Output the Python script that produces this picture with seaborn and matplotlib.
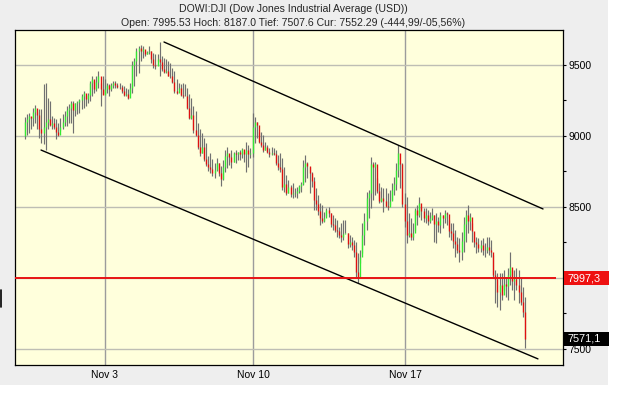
import numpy as np
import pandas as pd
import matplotlib
matplotlib.use("Agg")
import matplotlib.pyplot as plt
import seaborn as sns
from matplotlib.patches import Rectangle
from matplotlib.transforms import blended_transform_factory
from matplotlib.lines import Line2D

# ---------------- data ----------------
title_1 = "DOWI:DJI (Dow Jones Industrial Average (USD))"
title_2 = "Open: 7995.53 Hoch: 8187.0 Tief: 7507.6 Cur: 7552.29 (-444,99/-05,56%)"

first_open = 9000

highs = [
    # Oct 29 - Nov 3
    9136, 9153, 9164, 9136, 9200, 9216, 9169, 9188, 9188, 9364, 9375, 9270, 9246, 9141, 9129,
    9117, 9094, 9129, 9153, 9176, 9211, 9223, 9246, 9246, 9235, 9246, 9258, 9293, 9317, 9282,
    9305, 9387, 9422, 9387, 9422, 9458, 9375, 9422, 9399, 9375, 9364, 9375, 9387, 9387, 9375,
    # Nov 4 - Nov 7
    9375, 9357, 9352, 9340, 9329, 9375, 9528, 9552, 9622, 9634, 9638, 9634, 9598, 9598, 9634,
    9598, 9587, 9575, 9575, 9662, 9563, 9552, 9540, 9528, 9516, 9481, 9458, 9399, 9375, 9364,
    9375, 9364, 9340, 9293, 9270, 9211, 9176, 9094, 9047, 9023, 8988, 8953, 8859, 8883, 8836,
    8812, 8847, 8812, 8789, 8831,
    # Nov 7 - Nov 12
    8901, 8925, 8866, 8901, 8890, 8901, 8890, 8901, 8913, 8890, 8960, 8937, 8913, 9160, 9136,
    9101, 9031, 9031, 9007, 8960, 8937, 8913, 8925, 8913, 8901, 8866, 8878, 8843, 8784, 8725,
    8690, 8655, 8667, 8631, 8643, 8655, 8678, 8831, 8866, 8819, 8784, 8749, 8714, 8631, 8585,
    8526, 8514, 8467,
    # Nov 12 - Nov 18
    8491, 8502, 8455, 8444, 8420, 8408, 8362, 8385, 8408, 8408, 8315, 8303, 8291, 8268, 8256,
    8174, 8197, 8385, 8455, 8608, 8620, 8854, 8819, 8819, 8702, 8667, 8643, 8631, 8631, 8596,
    8620, 8667, 8714, 8807, 8937, 8807, 8807, 8596, 8573, 8455, 8420, 8385, 8491, 8514, 8573,
    8502, 8491, 8491, 8479, 8467, 8491,
    # Nov 18 - Nov 20
    8444, 8455, 8432, 8467, 8444, 8479, 8467, 8408, 8385, 8385, 8338, 8291, 8279, 8326, 8432,
    8479, 8514, 8455, 8385, 8326, 8291, 8279, 8268, 8279, 8244, 8291, 8291, 8268, 8162, 8056,
    8033, 8033, 8033, 8056, 8009, 8068, 8186, 8056, 8056, 8068, 8056, 8000, 7939, 7869,
]

lows = [
    8977, 9005, 9023, 9047, 9070, 9094, 9047, 8988, 8953, 8941, 8904, 9047, 9070, 9047, 9047,
    8977, 9000, 9035, 9047, 9070, 9070, 9094, 9094, 9023, 9141, 9153, 9164, 9188, 9200, 9211,
    9235, 9246, 9282, 9305, 9317, 9340, 9211, 9293, 9293, 9305, 9282, 9317, 9340, 9340, 9340,
    9333, 9305, 9282, 9282, 9258, 9293, 9305, 9352, 9422, 9446, 9528, 9552, 9563, 9575, 9575,
    9516, 9481, 9469, 9528, 9422, 9458, 9446, 9446, 9422, 9411, 9375, 9305, 9293, 9329, 9282,
    9270, 9282, 9188, 9117, 9117, 9023, 9000, 8906, 8859, 8883, 8824, 8789, 8754, 8742, 8718,
    8707, 8754, 8718, 8648, 8690,
    8749, 8772, 8796, 8772, 8819, 8808, 8831, 8831, 8843, 8819, 8749, 8784, 8843, 8854, 8948,
    8984, 8948, 8925, 8890, 8901, 8878, 8854, 8866, 8866, 8796, 8761, 8749, 8620, 8608, 8585,
    8596, 8573, 8561, 8573, 8561, 8596, 8608, 8655, 8678, 8702, 8596, 8643, 8479, 8479, 8444,
    8373, 8385, 8397,
    8437, 8427, 8362, 8338, 8326, 8291, 8279, 8256, 8268, 8315, 8209, 8221, 8197, 8150, 7998,
    7963, 8103, 8174, 8232, 8338, 8420, 8491, 8549, 8584, 8596, 8526, 8538, 8467, 8502, 8479,
    8514, 8549, 8584, 8620, 8714, 8631, 8502, 8362, 8244, 8291, 8268, 8268, 8338, 8373, 8432,
    8408, 8397, 8385, 8373, 8385, 8408,
    8256, 8244, 8326, 8314, 8350, 8385, 8373, 8291, 8268, 8209, 8150, 8174, 8115, 8127, 8186,
    8256, 8315, 8338, 8256, 8221, 8174, 8186, 8186, 8162, 8150, 8174, 8162, 8150, 7998, 7822,
    7798, 7775, 7845, 7916, 7869, 7845, 7951, 7916, 7845, 7916, 7822, 7810, 7728, 7507,
]

closes = [
    9100, 9120, 9140, 9130, 9170, 9200, 9150, 9050, 9020, 9060, 9100, 9120, 9080, 9090, 9060,
    9030, 9010, 9060, 9100, 9140, 9180, 9200, 9230, 9180, 9230, 9240, 9250, 9280, 9300, 9260,
    9290, 9370, 9400, 9330, 9380, 9420, 9330, 9290, 9330, 9360, 9330, 9360, 9370, 9360, 9345,
    9345, 9315, 9290, 9295, 9265, 9340, 9500, 9530, 9600, 9620, 9600, 9610, 9575, 9590, 9600,
    9540, 9500, 9490, 9540, 9520, 9470, 9450, 9460, 9420, 9420, 9380, 9320, 9300, 9340, 9290,
    9280, 9285, 9200, 9130, 9150, 9040, 9010, 8920, 8880, 8920, 8840, 8800, 8780, 8770, 8740,
    8760, 8810, 8740, 8700, 8780,
    8860, 8880, 8850, 8820, 8880, 8870, 8885, 8875, 8905, 8870, 8900, 8870, 8880, 9060, 9100,
    9080, 8960, 8940, 8900, 8920, 8890, 8870, 8880, 8875, 8810, 8780, 8770, 8640, 8660, 8600,
    8640, 8590, 8600, 8600, 8610, 8650, 8660, 8780, 8810, 8790, 8740, 8680, 8550, 8520, 8470,
    8420, 8400, 8420,
    8480, 8460, 8380, 8370, 8340, 8330, 8300, 8290, 8310, 8320, 8240, 8250, 8230, 8180, 8040,
    8000, 8150, 8300, 8400, 8560, 8600, 8800, 8780, 8800, 8610, 8540, 8560, 8540, 8510, 8500,
    8540, 8620, 8660, 8760, 8880, 8800, 8520, 8400, 8300, 8320, 8290, 8320, 8480, 8440, 8530,
    8470, 8420, 8440, 8400, 8420, 8440,
    8380, 8400, 8370, 8440, 8420, 8460, 8450, 8330, 8320, 8260, 8240, 8200, 8180, 8260, 8380,
    8440, 8400, 8430, 8330, 8250, 8240, 8210, 8230, 8200, 8200, 8220, 8200, 8180, 8020, 7990,
    7900, 7950, 7880, 7960, 7940, 8020, 8080, 7980, 7990, 7950, 7900, 7830, 7760, 7571,
]

opens = [first_open] + closes[:-1]

tick_pos = [38.1, 108.3, 180.2]
tick_labels = ["Nov 3", "Nov 10", "Nov 17"]

y_ticks = [7500, 8000, 8500, 9000, 9500]
y_tick_labels = ["7500", "", "8500", "9000", "9500"]  # 8000 is hidden under the red price box
y_minor = [7750, 8250, 8750, 9250]

# trend channel (bar position, price)
upper_x = [66.05, 245.6]
upper_y = [9662, 8486]
lower_x = [7.8, 243.2]
lower_y = [8901, 7430]

ref_level = 7997.3
ref_label = "7997,3"
last_level = 7571.1
last_label = "7571,1"

# ---------------- plot ----------------
sns.set_style("white")
plt.rcParams["font.family"] = ["Liberation Sans", "DejaVu Sans"]

fig = plt.figure(figsize=(6.4, 4.0), dpi=100, facecolor="white")
fig.patches.append(Rectangle((0, 15 / 400), 608 / 640, 385 / 400, transform=fig.transFigure,
                             facecolor="#EEEEEE", edgecolor="none", zorder=-10))
ax = fig.add_axes([15 / 640, 35 / 400, 548 / 640, 335 / 400])
ax.set_facecolor("#FFFFDC")

df = pd.DataFrame({"bar": np.arange(len(closes)), "open": opens, "high": highs,
                   "low": lows, "close": closes})
up = df["close"] >= df["open"]

ax.vlines(df["bar"], df["low"], df["high"], color="#707070", lw=0.85, zorder=3)
ax.vlines(df["bar"][up], df["open"][up], df["close"][up], color="#33E833", lw=0.95, zorder=4)
ax.vlines(df["bar"][~up], df["open"][~up], df["close"][~up], color="#E01010", lw=0.95, zorder=4)

tr = pd.DataFrame({"x": upper_x + lower_x, "y": upper_y + lower_y,
                   "line": ["upper"] * 2 + ["lower"] * 2})
sns.lineplot(data=tr, x="x", y="y", units="line", estimator=None, color="black",
             lw=1.0, ax=ax, zorder=5)

xmin, xmax = -4.53, 255.06
ax.hlines(ref_level, xmin, 251.7, color="#E81414", lw=1.4, zorder=6)

ax.set_xlim(xmin, xmax)
ax.set_ylim(7387, 9746.5)
ax.set_xlabel("")
ax.set_ylabel("")

ax.set_xticks(tick_pos)
ax.set_xticklabels(tick_labels)
ax.set_yticks(y_ticks)
ax.set_yticklabels(y_tick_labels)
ax.set_yticks(y_minor, minor=True)
ax.yaxis.tick_right()
ax.set_axisbelow(True)
ax.yaxis.grid(True, which="major", color="#BEBEB4", lw=1.0)
ax.xaxis.grid(True, color="#9C9C9C", lw=1.0)
ax.tick_params(axis="y", which="both", direction="out", length=2.5, width=0.8,
               pad=1.5, labelsize=7.5, colors="black", right=True, left=False)
ax.tick_params(axis="x", length=0, pad=3.5, labelsize=7.5, colors="black")
for s in ax.spines.values():
    s.set_color("black")
    s.set_linewidth(0.9)

bt = blended_transform_factory(ax.transAxes, ax.transData)
box_h = 14 * (9746.5 - 7387) / 335
for lvl, txt, col in [(ref_level, ref_label, "#EE1111"), (last_level, last_label, "black")]:
    ax.add_patch(Rectangle((1.002, lvl - box_h / 2), 45 / 548, box_h, transform=bt,
                           facecolor=col, edgecolor="none", clip_on=False, zorder=10))
    ax.text(1.008, lvl, txt, transform=bt, color="white", fontsize=7.8, va="center",
            ha="left", zorder=11, clip_on=False)

fig.text(293 / 640, 1 - 9 / 400, title_1, ha="center", va="center", fontsize=7.6)
fig.text(293 / 640, 1 - 23 / 400, title_2, ha="center", va="center", fontsize=7.6)

fig.add_artist(Line2D([1 / 640, 1 / 640], [1 - 290 / 400, 1 - 307 / 400], color="black",
                      lw=1.2, transform=fig.transFigure))

fig.savefig("out.png", dpi=100, facecolor="white")
